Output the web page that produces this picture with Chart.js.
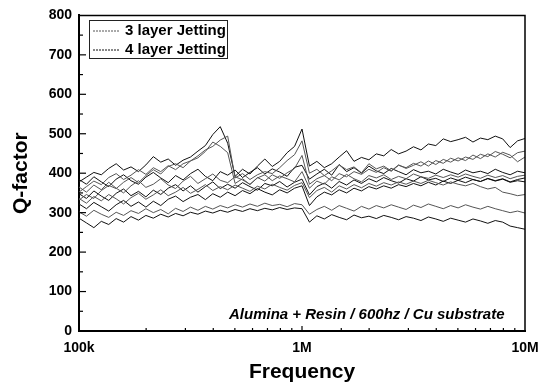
<html>
<head>
  <script src="https://cdn.jsdelivr.net/npm/chart.js"></script>
  <style>
    body { margin: 0; background: #fff; }
    #wrap { width: 551px; height: 385px; }
  </style>
</head>
<body>
  <div id="wrap"><canvas id="myChart"></canvas></div>
  <script>
    // frequencies (Hz), 30 points per decade
    const freqs = [100000, 108000, 116600, 125900, 135900, 146800, 158500, 171100, 184800, 199500,
      215400, 232600, 251200, 271200, 292900, 316200, 341500, 368700, 398100, 429900,
      464200, 501200, 541200, 584300, 631000, 681300, 735600, 794300, 857700, 926100,
      1000000, 1080000, 1166000, 1259000, 1359000, 1468000, 1585000, 1711000, 1848000, 1995000,
      2154000, 2326000, 2512000, 2712000, 2929000, 3162000, 3415000, 3687000, 3981000, 4299000,
      4642000, 5012000, 5412000, 5843000, 6310000, 6813000, 7356000, 7943000, 8577000, 9261000, 10000000];

    // 4 layer Jetting
    const q4a = [378, 390, 402, 396, 412, 424, 408, 416, 404, 421,
      442, 428, 436, 420, 433, 441, 456, 470, 498, 518,
      476, 392, 410, 398, 418, 436, 417, 430, 452, 468,
      512, 418, 430, 414, 424, 441, 457, 430, 440, 434,
      449, 444, 460, 449, 456, 467, 459, 474, 470, 487,
      480, 485, 491, 479, 489, 485, 494, 487, 465, 482, 488];
    const q4b = [384, 372, 391, 378, 366, 385, 396, 381, 372, 390,
      402, 388, 376, 394, 383, 399, 410, 392, 381, 404,
      395, 408, 389, 402, 414, 398, 411, 403, 392, 415,
      420, 385, 398, 410, 395, 422, 404, 414, 400, 418,
      406, 399, 412, 404, 396, 409, 401, 405, 398, 410,
      403, 397, 408, 401, 405, 399, 410, 402, 396, 405, 401];
    const q4c = [348, 336, 355, 342, 331, 349, 360, 343, 354, 340,
      357, 346, 362, 371, 355, 368, 352, 366, 378, 361,
      372, 362, 376, 366, 357, 374, 368, 379, 365, 377,
      385, 345, 366, 375, 362, 379, 370, 383, 374, 386,
      378, 389, 381, 375, 386, 380, 391, 383, 387, 379,
      388, 382, 390, 384, 379, 387, 381, 386, 378, 384, 388];
    const q4d = [322, 310, 326, 315, 304, 320, 331, 316, 327, 314,
      329, 318, 334, 342, 328, 339, 346, 333, 348, 339,
      352, 343, 356, 348, 361, 352, 345, 358, 350, 362,
      368, 318, 340, 352, 345, 358, 350, 362, 355, 366,
      360, 368, 362, 371, 366, 374, 368, 377, 370, 380,
      374, 382, 376, 384, 379, 386, 380, 385, 377, 381, 378];
    const q4e = [286, 274, 262, 278, 270, 285, 276, 290, 281, 293,
      286, 296, 289, 298, 292, 301, 296, 304, 299, 306,
      301, 308, 303, 310, 305, 311, 307, 313, 308, 312,
      310, 276, 292, 284, 295, 288, 282, 294, 287, 291,
      285, 293, 288, 282, 290, 286, 280, 289, 284, 278,
      286, 281, 276, 284, 279, 273, 280, 276, 266, 262, 258];

    // 3 layer Jetting
    const q3a = [352, 366, 380, 371, 389, 399, 384, 395, 409, 397,
      414, 404, 419, 409, 424, 431, 444, 459, 468, 484,
      494, 388, 399, 384, 396, 404, 399, 414, 432, 447,
      482, 400, 410, 394, 406, 421, 409, 416, 401, 424,
      411, 418, 406, 421, 412, 420, 429, 418, 432, 425,
      438, 431, 441, 435, 448, 442, 455, 448, 439, 452, 456];
    const q3b = [332, 346, 336, 356, 369, 361, 377, 389, 376, 394,
      409, 398, 417, 424, 414, 431, 439, 455, 479, 468,
      452, 374, 386, 371, 389, 380, 396, 387, 401, 412,
      445, 372, 386, 394, 381, 399, 391, 404, 397, 410,
      402, 414, 405, 420, 414, 425, 418, 431, 422, 435,
      428, 439, 432, 446, 437, 449, 441, 453, 446, 429, 441];
    const q3c = [365, 352, 370, 358, 377, 362, 350, 368, 381, 364,
      372, 386, 370, 361, 380, 392, 374, 386, 398, 382,
      376, 391, 383, 372, 388, 396, 381, 393, 386, 378,
      404, 362, 380, 372, 391, 383, 397, 386, 378, 394,
      388, 396, 384, 392, 386, 398, 391, 387, 395, 389,
      396, 390, 398, 392, 387, 395, 389, 394, 386, 392, 395];
    const q3d = [336, 324, 341, 330, 346, 335, 322, 338, 349, 334,
      345, 358, 343, 352, 364, 349, 359, 371, 356, 366,
      358, 370, 362, 354, 367, 360, 372, 364, 357, 369,
      376, 338, 356, 364, 352, 368, 360, 371, 363, 374,
      367, 376, 370, 378, 372, 380, 374, 382, 376, 370,
      378, 372, 368, 374, 366, 360, 364, 352, 348, 343, 346];
    const q3e = [302, 291, 306, 296, 288, 301, 293, 305, 298, 310,
      300, 308, 297, 311, 303, 314, 306, 316, 309, 318,
      312, 320, 314, 322, 316, 324, 318, 321, 315, 323,
      320, 296, 308, 316, 306, 318, 311, 304, 316, 309,
      318, 312, 320, 314, 308, 319, 313, 322, 316, 310,
      318, 312, 320, 314, 309, 316, 310, 305, 300, 304, 299];

    const series3 = [q3a, q3b, q3c, q3d, q3e];
    const series4 = [q4a, q4b, q4c, q4d, q4e];
    const legendLabels = ['3 layer Jetting', '4 layer Jetting'];
    const xLabels = { 100000: '100k', 1000000: '1M', 10000000: '10M' };
    const note = 'Alumina + Resin / 600hz / Cu substrate';

    const color3 = '#555555';
    const color4 = '#111111';

    const toPoints = arr => arr.map((v, i) => ({ x: freqs[i], y: v }));
    const datasets = [];
    series3.forEach(s => datasets.push({ data: toPoints(s), borderColor: color3, borderWidth: 1, pointRadius: 0 }));
    series4.forEach(s => datasets.push({ data: toPoints(s), borderColor: color4, borderWidth: 1, pointRadius: 0 }));

    Chart.defaults.font.family = "'Liberation Sans', Arial, sans-serif";
    Chart.defaults.color = '#000';

    // inward ticks, frame, legend box and note
    const extras = {
      id: 'extras',
      afterDraw(chart) {
        const ctx = chart.ctx;
        const a = chart.chartArea;
        const xs = chart.scales.x, ys = chart.scales.y;
        ctx.save();
        ctx.strokeStyle = '#000';
        ctx.lineWidth = 1.5;
        ctx.beginPath();
        ctx.moveTo(a.left, a.top); ctx.lineTo(a.right, a.top); ctx.lineTo(a.right, a.bottom);
        ctx.stroke();

        ctx.lineWidth = 1.2;
        for (let v = 50; v < 800; v += 50) {
          const y = ys.getPixelForValue(v);
          const len = v % 100 === 0 ? 7 : 4;
          ctx.beginPath(); ctx.moveTo(a.left, y); ctx.lineTo(a.left + len, y); ctx.stroke();
        }
        xs.ticks.forEach(t => {
          if (t.value <= 100000 || t.value >= 10000000) return;
          const x = xs.getPixelForValue(t.value);
          const len = xLabels[t.value] ? 5 : 3;
          ctx.beginPath(); ctx.moveTo(x, a.bottom); ctx.lineTo(x, a.bottom - len); ctx.stroke();
        });

        // legend
        ctx.fillStyle = '#fff';
        ctx.fillRect(89, 20, 138, 38);
        ctx.lineWidth = 1;
        ctx.strokeStyle = '#222';
        ctx.strokeRect(89.5, 20.5, 138, 38);
        ctx.font = "bold 15px 'Liberation Sans', Arial, sans-serif";
        ctx.textBaseline = 'middle';
        ctx.fillStyle = '#000';
        [color3, color4].forEach((c, i) => {
          const y = 31 + i * 19;
          ctx.strokeStyle = c;
          ctx.setLineDash([2, 1]);
          ctx.beginPath(); ctx.moveTo(93, y); ctx.lineTo(120, y); ctx.stroke();
          ctx.setLineDash([]);
          ctx.fillText(legendLabels[i], 125, y);
        });

        // note
        ctx.font = "italic bold 15px 'Liberation Sans', Arial, sans-serif";
        ctx.textBaseline = 'alphabetic';
        ctx.fillText(note, 229, 319);
        ctx.restore();
      }
    };

    new Chart(document.getElementById('myChart'), {
      type: 'line',
      data: { datasets: datasets },
      options: {
        responsive: true,
        maintainAspectRatio: false,
        animation: false,
        layout: { padding: { left: 0, top: 14, right: 26, bottom: 0 } },
        plugins: { legend: { display: false }, tooltip: { enabled: false } },
        elements: { line: { tension: 0 } },
        scales: {
          x: {
            type: 'logarithmic',
            min: 100000,
            max: 10000000,
            afterFit: s => { s.height = 54; },
            grid: { display: true, drawOnChartArea: false, drawTicks: false },
            border: { color: '#000', width: 2 },
            ticks: {
              autoSkip: false,
              maxRotation: 0,
              padding: 9,
              font: { size: 14, weight: 'bold' },
              callback: v => xLabels[v] || ''
            },
            title: {
              display: true,
              text: 'Frequency',
              font: { size: 21, weight: 'bold' },
              padding: { top: 0, bottom: 0 }
            }
          },
          y: {
            min: 0,
            max: 800,
            afterFit: s => { s.width = 79; },
            grid: { display: true, drawOnChartArea: false, drawTicks: false },
            border: { color: '#000', width: 2 },
            ticks: {
              stepSize: 100,
              padding: 7,
              font: { size: 14, weight: 'bold' }
            },
            title: {
              display: true,
              text: 'Q-factor',
              font: { size: 21, weight: 'bold' },
              padding: { top: 9, bottom: 0 }
            }
          }
        }
      },
      plugins: [extras]
    });
  </script>
</body>
</html>
